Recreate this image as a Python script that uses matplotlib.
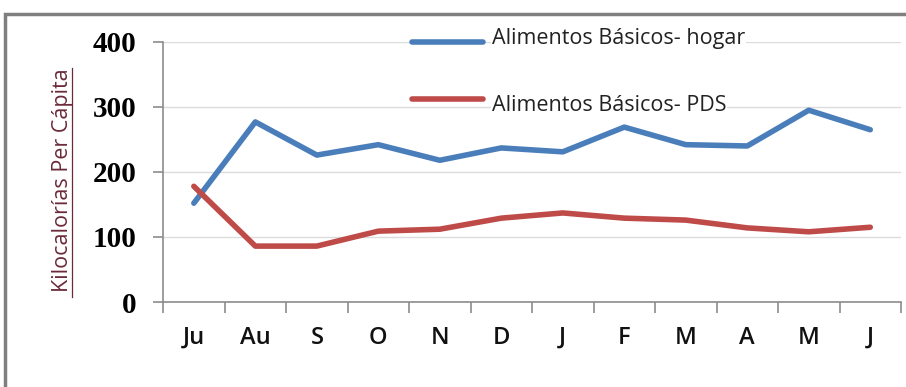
import matplotlib
matplotlib.use("Agg")
import matplotlib.pyplot as plt
import matplotlib.patches as patches
import numpy as np

meses = ["Ju", "Au", "S", "O", "N", "D", "J", "F", "M", "A", "M", "J"]
hogar = [152, 277, 226, 242, 218, 237, 231, 269, 242, 240, 295, 265]
pds = [178, 86, 86, 109, 112, 129, 137, 129, 126, 114, 108, 115]
yticks = [0, 100, 200, 300, 400]

azul = "#4a7ebb"
rojo = "#be4b48"
gris = "#8c8c8c"

fig = plt.figure(figsize=(9.06, 3.87), dpi=100)
ax = fig.add_axes([0.18, 0.2196, 0.8145, 0.672])

x = np.arange(len(meses)) + 0.5
ax.plot(x, hogar, color=azul, lw=4, solid_capstyle="round", zorder=3)
ax.plot(x, pds, color=rojo, lw=4, solid_capstyle="round", zorder=3)

ax.set_xlim(0, len(meses))
ax.set_ylim(0, 400)
ax.set_yticks(yticks)
ax.set_yticklabels([str(v) for v in yticks], fontfamily="Liberation Serif",
                   fontweight="bold", fontsize=21)
ax.set_xticks(np.arange(len(meses) + 1))
ax.set_xticklabels([])
ax.set_xticks(x, minor=True)
ax.set_xticklabels(meses, minor=True, fontfamily="Open Sans",
                   fontstretch="condensed", fontweight="semibold",
                   fontsize=17, color="#111111")
ax.tick_params(axis="x", which="minor", length=0, pad=17)
ax.tick_params(axis="x", which="major", length=8, color=gris, width=1.2)
ax.tick_params(axis="y", length=7, color=gris, width=1.2, pad=12)

for s in ["top", "right"]:
    ax.spines[s].set_visible(False)
for s in ["left", "bottom"]:
    ax.spines[s].set_color(gris)
    ax.spines[s].set_linewidth(1.2)
ax.grid(axis="y", color="#dcdcdc", lw=1, zorder=0)
ax.set_axisbelow(True)

# leyenda dibujada a mano, como en el original
ax.plot([4.05, 5.2], [400, 400], color=azul, lw=4, solid_capstyle="round",
        clip_on=False, zorder=4)
ax.text(5.35, 397, "Alimentos Básicos- hogar", fontsize=15.5,
        fontfamily="Open Sans", va="baseline", ha="left", color="#222222",
        bbox=dict(facecolor="white", edgecolor="none", pad=0.5), zorder=4)
ax.plot([4.05, 5.2], [313, 313], color=rojo, lw=4, solid_capstyle="round",
        clip_on=False, zorder=4)
ax.text(5.35, 303, "Alimentos Básicos- PDS", fontsize=15.5,
        fontfamily="Open Sans", va="center", ha="left", color="#222222",
        bbox=dict(facecolor="white", edgecolor="none", pad=0.5), zorder=4)

fig.text(0.069, 0.535, "Kilocalorías Per Cápita", rotation=90, fontsize=15.5,
         fontfamily="Open Sans", color="#6b2a3a", ha="center", va="center")
fig.add_artist(plt.Line2D([0.080, 0.080], [0.232, 0.825], color="#6b2a3a",
                          lw=0.9))

marco = patches.Rectangle((5 / 906, -0.01), 1.0, 1 - 14 / 387 + 0.01,
                          transform=fig.transFigure, fill=False,
                          edgecolor="#7f7f7f", lw=2.5)
fig.add_artist(marco)

fig.savefig("out.png", dpi=100)
